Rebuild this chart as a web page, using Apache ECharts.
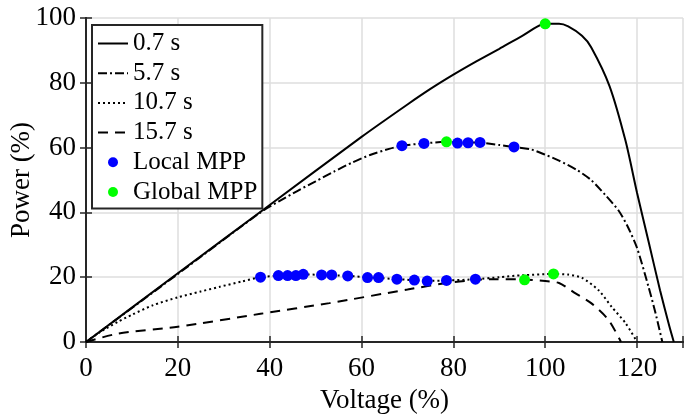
<!DOCTYPE html>
<html>
<head>
<meta charset="utf-8">
<title>Power vs Voltage</title>
<script src="https://cdn.jsdelivr.net/npm/echarts@6/dist/echarts.min.js"></script>
<style>
  html, body { margin: 0; padding: 0; background: #fff; }
  #chart { width: 684px; height: 416px; }
</style>
</head>
<body>
<div id="chart"></div>
<script>
// curve 0.7 s
const volt07 = [0, 20, 40, 60, 70, 75, 80, 85, 90, 95, 100, 103, 105, 108, 110, 114, 117.5, 120, 122.5, 125, 127, 128];
const pow07  = [0, 21.2, 42.3, 63.3, 73.3, 78.1, 82.5, 86.6, 90.5, 94.5, 98.2, 98.2, 97.4, 94.5, 91, 79, 62, 46, 31, 16, 5, 0];
// curve 5.7 s
const volt57 = [0, 20, 38, 42, 46, 50, 54, 58, 62, 66, 68.8, 73.6, 78.5, 82, 86, 90, 93, 97, 100, 103, 107, 110, 113, 116, 118, 120, 122.5, 124, 125.5];
const pow57  = [0, 21, 40, 43.4, 46.6, 49.6, 52.6, 55.4, 57.8, 59.6, 60.6, 61.3, 61.8, 61.6, 61.5, 60.8, 60.2, 59.4, 57.8, 56, 53, 50, 45.5, 40.5, 35.5, 29, 17, 9, 0];
// curve 10.7 s
const volt107 = [0, 3, 7, 10, 14.5, 20, 25, 29, 34, 38, 42, 47, 51, 57, 62, 68, 74, 79, 85, 90, 95, 102, 105, 108, 111.6, 114.5, 117.5, 120];
const pow107  = [0, 3, 6.3, 8.4, 11.3, 13.8, 15.6, 17, 18.7, 20, 20.5, 20.9, 20.7, 20.4, 19.9, 19.4, 18.9, 19, 19.4, 20, 20.6, 21, 20.8, 19.8, 16, 10.8, 5.8, 0];
// curve 15.7 s
const volt157 = [0, 7, 20, 38, 53, 70, 80, 89, 95, 100, 103, 106.6, 110, 113.8, 116.5];
const pow157  = [0, 2.6, 4.7, 8.7, 12, 16.2, 18.5, 19.4, 19.3, 18.8, 18.2, 15, 12, 6.8, 0];
// maximum power points
const localV  = [38, 41.9, 43.9, 45.7, 47.3, 51.3, 53.5, 57, 61.3, 63.7, 67.7, 71.5, 74.3, 78.5, 84.8,
                 68.8, 73.6, 80.9, 83.2, 85.8, 93.2];
const localP  = [20, 20.5, 20.5, 20.5, 20.9, 20.7, 20.7, 20.4, 19.9, 19.9, 19.4, 19.1, 18.8, 19, 19.4,
                 60.6, 61.3, 61.4, 61.5, 61.6, 60.2];
const globalV = [100, 78.5, 101.8, 95.5];
const globalP = [98.2, 61.8, 21, 19.2];
const xTicks = [0, 20, 40, 60, 80, 100, 120];
const curveNames = ['0.7 s', '5.7 s', '10.7 s', '15.7 s'];

const font = 'Liberation Serif';
const ink = '#262626';

function pairs(xs, ys) {
  return xs.map((x, i) => [x, ys[i]]);
}

function curve(name, xs, ys, type) {
  return {
    name: name,
    type: 'line',
    data: pairs(xs, ys),
    symbol: 'circle',
    showSymbol: false,
    smooth: 0.25,
    lineStyle: { color: '#000', width: 2, type: type },
    itemStyle: { color: '#000' },
    z: 2
  };
}

// line entries: hide the legend symbol, keep only the line
let legendData = curveNames.map(n => ({ name: n, itemStyle: { opacity: 0 } }));
legendData.push('Local MPP', 'Global MPP');

let chart = echarts.init(document.getElementById('chart'));
let option = {
  animation: false,
  grid: { left: 86, right: 1, top: 18, bottom: 74, outerBoundsMode: 'none', containLabel: false },
  legend: {
    orient: 'vertical',
    left: 92,
    top: 25,
    padding: [6, 5, 4, 5],
    itemGap: 4.7,
    itemWidth: 30,
    itemHeight: 10,
    borderColor: ink,
    borderWidth: 2,
    borderRadius: 0,
    backgroundColor: '#fff',
    textStyle: { fontFamily: font, fontSize: 25, lineHeight: 24, color: '#000' },
    data: legendData
  },
  xAxis: [{
    type: 'value',
    min: 0,
    max: 130,
    interval: 20,
    name: 'Voltage (%)',
    nameLocation: 'middle',
    nameGap: 45,
    nameMoveOverlap: false,
    nameTextStyle: { fontFamily: font, fontSize: 27, color: '#000' },
    axisLine: { show: true, lineStyle: { color: ink, width: 2 } },
    axisTick: { inside: true, length: 6, lineStyle: { color: ink, width: 1.5 } },
    axisLabel: {
      margin: 13,
      fontFamily: font, fontSize: 27, color: '#000',
      formatter: v => (xTicks.indexOf(v) >= 0 ? String(v) : '')
    },
    splitLine: { show: true, lineStyle: { color: '#dedede', width: 1.5 } }
  }, {
    type: 'value',
    position: 'top',
    min: 0,
    max: 130,
    interval: 20,
    axisLine: { show: true, lineStyle: { color: ink, width: 2 } },
    axisTick: { inside: true, length: 6, lineStyle: { color: ink, width: 1.5 } },
    axisLabel: { show: false },
    splitLine: { show: false }
  }],
  yAxis: [{
    type: 'value',
    min: 0,
    max: 100,
    interval: 20,
    name: 'Power (%)',
    nameLocation: 'middle',
    nameGap: 51,
    nameMoveOverlap: false,
    nameTextStyle: { fontFamily: font, fontSize: 27, color: '#000' },
    axisLine: { show: true, lineStyle: { color: ink, width: 2 } },
    axisTick: { inside: true, length: 6, lineStyle: { color: ink, width: 1.5 } },
    axisLabel: { margin: 10, fontFamily: font, fontSize: 27, color: '#000' },
    splitLine: { show: true, lineStyle: { color: '#dedede', width: 1.5 } }
  }, {
    type: 'value',
    position: 'right',
    min: 0,
    max: 100,
    interval: 20,
    axisLine: { show: true, lineStyle: { color: ink, width: 2 } },
    axisTick: { inside: true, length: 6, lineStyle: { color: ink, width: 1.5 } },
    axisLabel: { show: false },
    splitLine: { show: false }
  }],
  series: [
    curve(curveNames[0], volt07, pow07, 'solid'),
    curve(curveNames[1], volt57, pow57, [9, 3, 2, 3]),
    curve(curveNames[2], volt107, pow107, [2, 3]),
    curve(curveNames[3], volt157, pow157, [10, 7]),
    {
      name: 'Local MPP',
      type: 'scatter',
      data: pairs(localV, localP),
      symbol: 'circle',
      symbolSize: 11,
      itemStyle: { color: '#0000ff', opacity: 1 },
      z: 3
    },
    {
      name: 'Global MPP',
      type: 'scatter',
      data: pairs(globalV, globalP),
      symbol: 'circle',
      symbolSize: 11,
      itemStyle: { color: '#00ff00', opacity: 1 },
      z: 4
    }
  ]
};
chart.setOption(option);
</script>
</body>
</html>
